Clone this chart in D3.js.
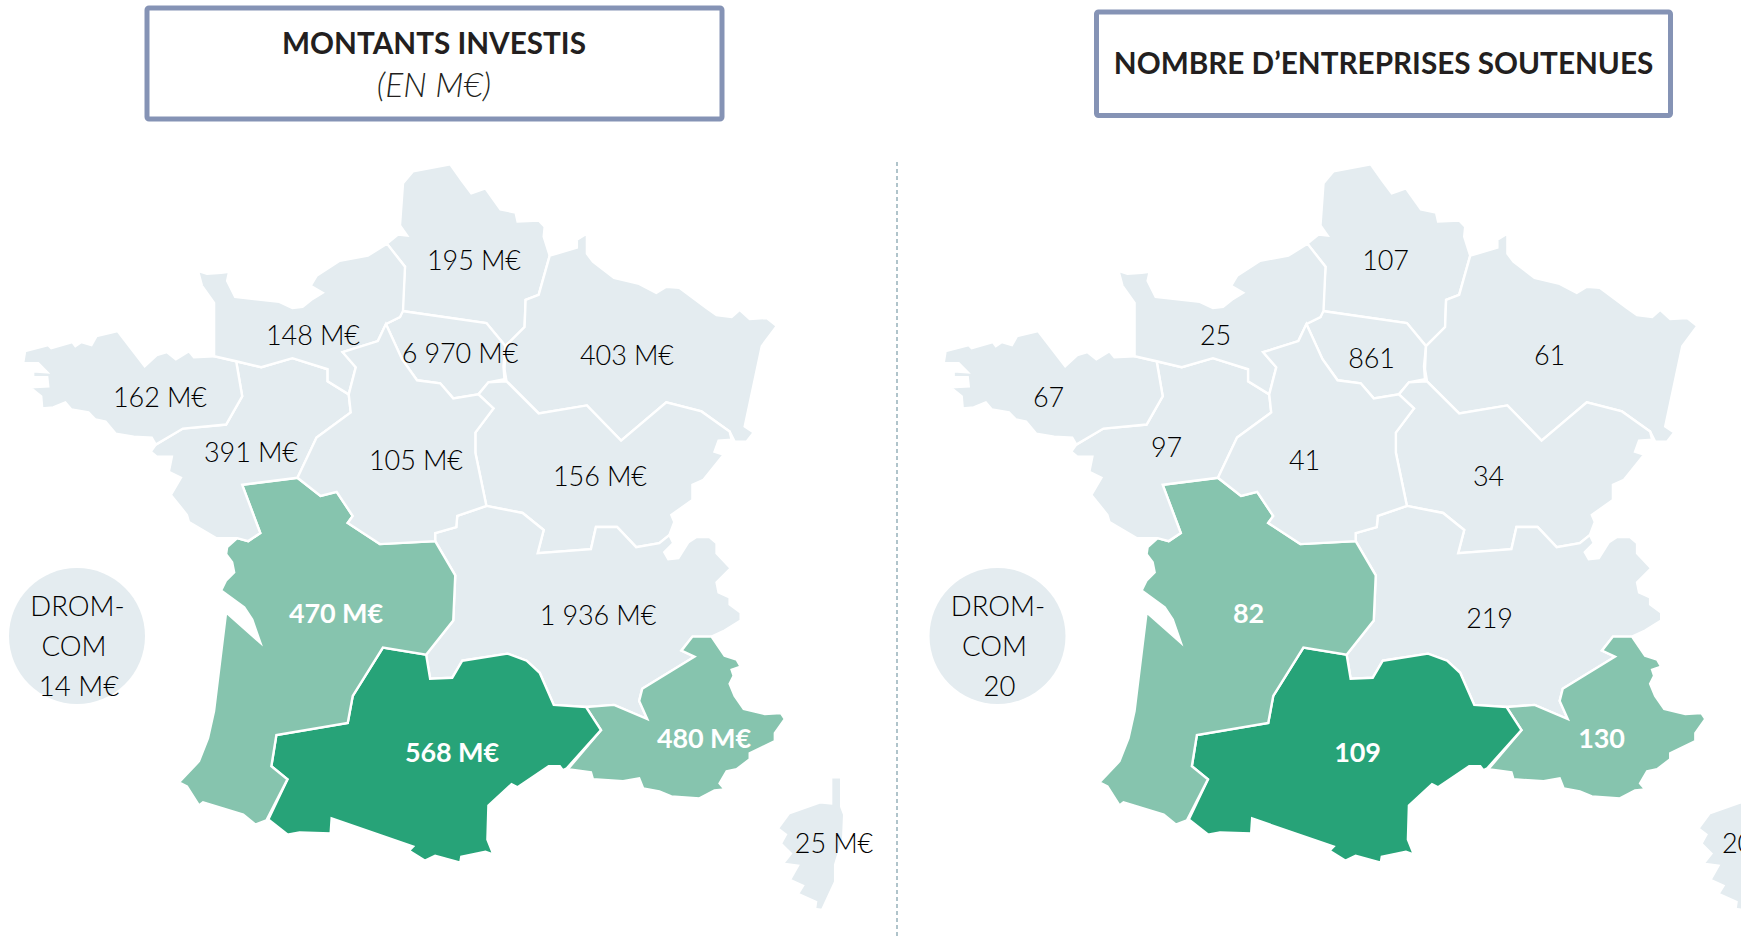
<!DOCTYPE html>
<html lang="fr">
<head>
<meta charset="utf-8">
<script src="https://cdn.jsdelivr.net/npm/d3@7"></script>
<style>
  html, body { margin: 0; padding: 0; background: #fff; overflow: hidden; }
  svg { display: block; font-family: Lato, "Open Sans", sans-serif; }
</style>
</head>
<body>
<svg id="chart" width="1741" height="938"></svg>
<script>
// values
const regions = ["Hauts-de-France", "Île-de-France", "Grand Est", "Bourgogne-Franche-Comté", "Auvergne-Rhône-Alpes",
    "PACA", "Occitanie", "Nouvelle-Aquitaine", "Pays de la Loire", "Bretagne", "Normandie", "Centre-Val de Loire", "Corse"];
const montants = ["195 M€", "6 970 M€", "403 M€", "156 M€", "1 936 M€", "480 M€", "568 M€", "470 M€", "391 M€", "162 M€", "148 M€", "105 M€", "25 M€"];
const entreprises = ["107", "861", "61", "34", "219", "130", "109", "82", "97", "67", "25", "41", "20"];
const tiers = ["low", "low", "low", "low", "low", "mid", "high", "mid", "low", "low", "low", "low", "low"];

const dromLines = [["DROM-", "COM", "14 M€"], ["DROM-", "COM", "20"]];

// region outlines, traced in map units
const outHDF = [[387,245],[398,236],[407,237],[400,227],[403,185],[413,173],[450,166],[462,183],[471,195],[485,190],[500,211],[515,214],[517,223],[538,222],[544,228],[543,238],[549,257],[538,296],[525,301],[524,328],[505,347],[486,324],[402,312],[405,268]];
const outIDF = [[402,312],[486,324],[505,347],[503,367],[504,380],[488,383],[478,395],[453,399],[440,384],[417,381],[402,360],[386,325],[400,318]];
const outGE = [[549,257],[576,249],[576,241],[586,235],[586,255],[592,263],[613,279],[638,285],[655,294],[665,288],[678,289],[705,309],[715,316],[730,318],[738,311],[748,320],[765,319],[775,327],[760,347],[743,427],[752,433],[745,442],[733,442],[728,432],[700,412],[665,403],[620,441],[586,406],[538,414],[506,382],[504,370],[505,347],[524,328],[525,301],[538,296]];
const outBFC = [[506,382],[538,414],[586,406],[620,441],[665,403],[700,412],[728,432],[730,440],[717,441],[713,452],[722,455],[702,480],[691,485],[691,500],[670,515],[673,522],[668,535],[658,543],[635,547],[616,527],[595,527],[590,549],[537,553],[543,530],[522,513],[486,506],[475,453],[475,433],[493,409],[478,395],[488,383]];
const outAURA = [[486,506],[457,516],[456,527],[435,533],[435,541],[455,575],[453,620],[426,654],[430,678],[452,677],[462,660],[507,653],[526,660],[539,672],[553,704],[585,706],[613,704],[646,718],[638,700],[641,688],[693,656],[680,650],[691,636],[710,636],[723,630],[739,620],[739,612],[728,604],[728,597],[717,592],[715,582],[729,568],[715,553],[715,543],[708,537],[695,537],[687,542],[677,558],[667,559],[663,552],[672,543],[668,535],[658,543],[635,547],[616,527],[595,527],[590,549],[537,553],[543,530],[522,513]];
const outPACA = [[691,636],[710,636],[723,655],[735,659],[739,666],[730,669],[732,675],[728,683],[733,695],[742,708],[763,713],[779,712],[783,718],[773,732],[773,740],[748,752],[748,758],[735,768],[725,770],[718,782],[723,788],[713,789],[698,797],[670,795],[658,790],[642,787],[638,777],[622,780],[592,778],[590,771],[567,768],[600,729],[585,706],[613,704],[646,718],[638,700],[641,688],[693,656],[680,650]];
const outOCC = [[383,647],[426,654],[430,678],[452,677],[462,660],[507,653],[526,660],[539,672],[553,704],[585,706],[600,729],[566,767],[562,769],[559,765],[548,765],[517,786],[511,783],[488,804],[487,838],[493,853],[485,850],[461,855],[460,861],[435,854],[425,859],[409,849],[413,845],[332,817],[331,832],[300,831],[288,833],[269,818],[288,778],[272,765],[277,734],[348,722],[353,695]];
const outNA = [[243,485],[298,478],[321,496],[337,492],[353,516],[348,523],[380,544],[435,541],[455,575],[453,620],[426,654],[383,647],[353,695],[348,722],[277,734],[272,765],[288,778],[267,819],[256,823],[244,813],[204,801],[200,804],[188,785],[180,781],[200,760],[209,737],[215,710],[227,612],[261,642],[253,619],[245,607],[222,590],[227,580],[235,572],[233,562],[227,554],[228,547],[238,538],[249,541],[261,533]];
const outPDL = [[298,478],[317,438],[351,413],[349,395],[328,382],[328,370],[293,359],[262,368],[237,362],[243,397],[227,425],[184,429],[157,445],[152,452],[158,457],[173,457],[170,472],[182,478],[172,495],[188,515],[190,522],[217,538],[238,538],[249,541],[261,533],[243,485]];
const outBRE = [[215,357],[237,362],[243,397],[227,425],[184,429],[157,445],[153,438],[135,437],[117,434],[107,422],[97,420],[90,413],[73,410],[67,403],[55,408],[44,409],[43,397],[32,388],[50,387],[49,378],[35,378],[35,372],[49,373],[40,364],[25,364],[27,352],[50,346],[53,349],[74,343],[77,347],[83,343],[93,346],[98,337],[119,332],[146,367],[158,356],[168,353],[177,360],[190,352],[195,358]];
const outNOR = [[387,245],[405,268],[403,312],[400,318],[386,325],[378,342],[343,353],[356,368],[349,395],[328,382],[328,370],[293,359],[262,368],[237,362],[215,357],[215,304],[203,287],[199,272],[208,275],[222,274],[230,273],[228,282],[236,298],[280,303],[293,309],[303,308],[313,300],[323,294],[311,287],[317,277],[340,262],[368,257]];
const outCVL = [[343,353],[378,342],[386,325],[402,360],[417,381],[440,384],[453,399],[478,395],[493,409],[475,433],[475,453],[486,506],[457,516],[456,527],[435,533],[435,541],[380,544],[348,523],[353,516],[337,492],[321,496],[298,478],[317,438],[351,413],[349,395],[356,368]];
const outCOR = [[829,776],[839,776],[839,805],[842,813],[841,837],[833,863],[833,880],[820,908],[813,907],[814,900],[796,892],[801,884],[788,878],[796,864],[781,862],[789,852],[779,842],[784,833],[776,827],[787,812],[818,801],[829,802]];
const outlines = [outHDF, outIDF, outGE, outBFC, outAURA, outPACA, outOCC, outNA, outPDL, outBRE, outNOR, outCVL, outCOR];

// where each label sits, in map units
const anchorsLeft = [[474,261],[460,354],[627,356],[600,477],[598,616],[704,739],[452,753],[336,614],[251,453],[160,398],[313,336],[416,461],[834,844]];
const anchorsRight = [[465,261],[451,359],[629,356],[568,477],[569,619],[681,739],[437,753],[328,614],[246,448],[128,398],[295,336],[384,461],[817,844]];

const colour = d3.scaleOrdinal()
    .domain(["low", "mid", "high"])
    .range(["#e4ecf0", "#86c4ae", "#27a378"]);

const features = regions.map((name, i) => ({
    type: "Feature",
    properties: { name: name, tier: tiers[i] },
    geometry: { type: "Polygon", coordinates: [outlines[i].concat([outlines[i][0]])] }
}));

const svg = d3.select("#chart");

svg.append("line")
    .attr("x1", 897).attr("x2", 897)
    .attr("y1", 162).attr("y2", 938)
    .attr("stroke", "#9db6bf")
    .attr("stroke-width", 1.6)
    .attr("stroke-dasharray", "4 3");

function drawPanel(dx, values, anchors, drom) {
    let k = 1.005; // the coast loses a little under the white stroke
    let projection = d3.geoIdentity().scale(k).translate([dx + 404 * (1 - k), 520 * (1 - k)]);
    let path = d3.geoPath(projection);
    let g = svg.append("g");

    g.selectAll("path")
        .data(features)
        .join("path")
        .attr("d", path)
        .attr("fill", d => colour(d.properties.tier))
        .attr("stroke", "#fff")
        .attr("stroke-width", 2.4)
        .attr("stroke-linejoin", "miter");

    g.append("circle")
        .attr("cx", 77 + dx)
        .attr("cy", 636)
        .attr("r", 68)
        .attr("fill", "#e4ecf0");

    g.selectAll("text.drom")
        .data(drom)
        .join("text")
        .attr("class", "drom")
        .attr("x", (d, i) => [77.5, 74, 79][i] + dx)
        .attr("y", (d, i) => 606 + i * 40)
        .attr("dy", "0.35em")
        .attr("text-anchor", "middle")
        .attr("font-size", 27.5)
        .attr("font-weight", 300)
        .attr("fill", "#000")
        .text(d => d);

    g.selectAll("text.value")
        .data(values)
        .join("text")
        .attr("class", "value")
        .attr("x", (d, i) => anchors[i][0] + dx)
        .attr("y", (d, i) => anchors[i][1])
        .attr("dy", "0.35em")
        .attr("text-anchor", "middle")
        .attr("font-size", 27)
        .attr("letter-spacing", -0.1)
        .attr("font-weight", (d, i) => tiers[i] == "low" ? 300 : 700)
        .attr("fill", (d, i) => tiers[i] == "low" ? "#000" : "#fff")
        .text(d => d);
}

drawPanel(0, montants, anchorsLeft, dromLines[0]);
drawPanel(920.5, entreprises, anchorsRight, dromLines[1]);

// title boxes
function titleBox(x, y, w, h) {
    svg.append("rect")
        .attr("x", x).attr("y", y)
        .attr("width", w).attr("height", h)
        .attr("rx", 2)
        .attr("fill", "#fff")
        .attr("stroke", "#8593b5")
        .attr("stroke-width", 5);
}
titleBox(147, 8, 575, 111);
titleBox(1096.5, 12, 574, 103.5);

svg.append("text")
    .attr("x", 434).attr("y", 44).attr("dy", "0.35em")
    .attr("text-anchor", "middle").attr("font-size", 29.7).attr("font-weight", 700).attr("fill", "#231f20")
    .text("MONTANTS INVESTIS");
svg.append("text")
    .attr("x", 434).attr("y", 85).attr("dy", "0.35em")
    .attr("text-anchor", "middle").attr("font-size", 33.5).attr("font-weight", 300).attr("font-style", "italic").attr("fill", "#231f20")
    .text("(EN M€)");
svg.append("text")
    .attr("x", 1383.5).attr("y", 64).attr("dy", "0.35em")
    .attr("text-anchor", "middle").attr("font-size", 29.7).attr("font-weight", 700).attr("fill", "#231f20")
    .text("NOMBRE D’ENTREPRISES SOUTENUES");
</script>
</body>
</html>
